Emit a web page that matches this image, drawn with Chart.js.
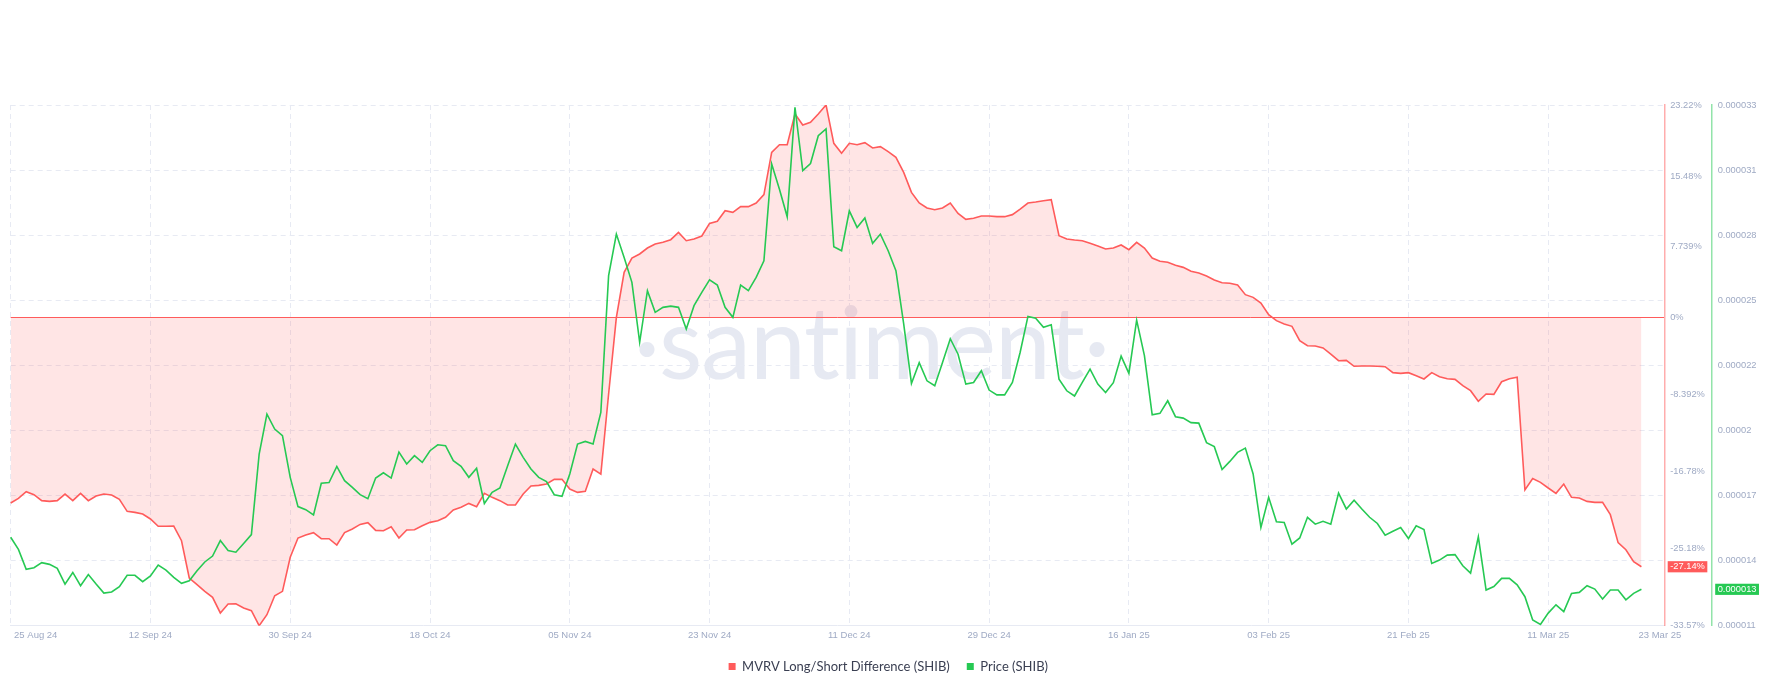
<!DOCTYPE html>
<html>
<head>
<meta charset="utf-8">
<title>SHIB MVRV Long/Short Difference vs Price</title>
<script src="https://cdn.jsdelivr.net/npm/chart.js@4.4.1/dist/chart.umd.min.js"></script>
<style>
  html, body { margin: 0; padding: 0; background: #fff; }
  #wrap { position: relative; width: 1766px; height: 683px; overflow: hidden; }
  #mark {
    position: absolute; left: 634px; top: 290px;
    font: 400 100px Lato, sans-serif; line-height: 100px;
    color: #e6e9f2; letter-spacing: -1px; white-space: nowrap;
  }
  #chart { position: absolute; left: 0; top: 0; width: 1766px; height: 683px; }
</style>
</head>
<body>
<div id="wrap">
  <div id="mark">·santiment·</div>
  <canvas id="chart" width="1766" height="683"></canvas>
</div>
<script>
// daily categories, 25 Aug 24 .. 26 Mar 25 (the last three days are the empty right margin)
var months = ['Jan', 'Feb', 'Mar', 'Apr', 'May', 'Jun', 'Jul', 'Aug', 'Sep', 'Oct', 'Nov', 'Dec'];
var dates = [];
for (var d = 0; d < 214; d++) {
    var t = new Date(Date.UTC(2024, 7, 25 + d));
    dates.push(String(t.getUTCDate()).padStart(2, '0') + ' ' + months[t.getUTCMonth()] + ' ' + String(t.getUTCFullYear()).slice(2));
}

var xTickLabels = ['25 Aug 24', '12 Sep 24', '30 Sep 24', '18 Oct 24', '05 Nov 24', '23 Nov 24', '11 Dec 24',
    '29 Dec 24', '16 Jan 25', '03 Feb 25', '21 Feb 25', '11 Mar 25', '23 Mar 25'];

// MVRV Long/Short Difference (SHIB), %
var mvrv = [
    -20.19, -19.68, -18.95, -19.28, -19.93, -20.01, -19.93, -19.21, -19.93, -19.13,
    -19.93, -19.43, -19.21, -19.32, -19.79, -21.10, -21.21, -21.39, -21.93, -22.73,
    -22.73, -22.70, -24.30, -28.37, -29.10, -29.82, -30.48, -32.18, -31.20, -31.17,
    -31.64, -31.93, -33.57, -32.37, -30.30, -29.82, -26.11, -24.01, -23.68, -23.42,
    -24.08, -24.08, -24.77, -23.42, -23.02, -22.52, -22.33, -23.17, -23.21, -22.77,
    -24.01, -23.13, -23.10, -22.66, -22.30, -22.12, -21.75, -20.95, -20.66, -20.23,
    -20.59, -19.13, -19.57, -19.93, -20.41, -20.41, -19.21, -18.33, -18.26, -18.12,
    -17.61, -17.61, -18.66, -19.03, -18.92, -16.48, -17.03, -8.30, 0.06, 4.97,
    6.53, 6.97, 7.62, 8.06, 8.24, 8.53, 9.33, 8.42, 8.60, 8.93,
    10.31, 10.53, 11.69, 11.51, 12.13, 12.13, 12.53, 13.44, 18.05, 18.89,
    18.89, 22.24, 21.04, 21.33, 22.24, 23.22, 19.04, 17.95, 19.04, 18.89,
    19.11, 18.53, 18.67, 18.13, 17.51, 15.87, 13.69, 12.53, 11.98, 11.80,
    11.98, 12.53, 11.40, 10.75, 10.86, 11.11, 11.11, 11.04, 11.04, 11.26,
    11.87, 12.53, 12.64, 12.78, 12.89, 8.97, 8.60, 8.49, 8.42, 8.13,
    7.84, 7.51, 7.62, 7.95, 7.44, 8.24, 7.62, 6.53, 6.17, 6.06,
    5.73, 5.51, 5.08, 4.90, 4.57, 4.13, 3.84, 3.77, 3.59, 2.53,
    2.24, 1.62, 0.35, -0.30, -0.67, -0.92, -2.48, -3.03, -3.07, -3.28,
    -3.94, -4.67, -4.63, -5.28, -5.25, -5.25, -5.28, -5.32, -5.97, -6.05,
    -5.97, -6.30, -6.66, -5.97, -6.41, -6.63, -6.70, -7.39, -7.94, -9.10,
    -8.30, -8.34, -6.96, -6.63, -6.48, -18.77, -17.53, -17.94, -18.55, -19.13,
    -18.12, -19.57, -19.64, -20.01, -20.12, -20.12, -21.46, -24.51, -25.28, -26.59,
    -27.14
];

// Price (SHIB), USD
var price = [
    15.12e-6, 14.61e-6, 13.77e-6, 13.84e-6, 14.05e-6, 13.98e-6, 13.81e-6, 13.15e-6, 13.64e-6, 13.08e-6,
    13.55e-6, 13.15e-6, 12.77e-6, 12.82e-6, 13.04e-6, 13.52e-6, 13.52e-6, 13.25e-6, 13.49e-6, 13.95e-6,
    13.74e-6, 13.43e-6, 13.18e-6, 13.29e-6, 13.71e-6, 14.08e-6, 14.33e-6, 14.98e-6, 14.56e-6, 14.49e-6,
    14.86e-6, 15.23e-6, 18.62e-6, 20.30e-6, 19.67e-6, 19.39e-6, 17.64e-6, 16.41e-6, 16.28e-6, 16.06e-6,
    17.39e-6, 17.42e-6, 18.10e-6, 17.50e-6, 17.22e-6, 16.91e-6, 16.74e-6, 17.61e-6, 17.83e-6, 17.61e-6,
    18.70e-6, 18.20e-6, 18.55e-6, 18.27e-6, 18.76e-6, 19.01e-6, 18.97e-6, 18.34e-6, 18.10e-6, 17.64e-6,
    18.02e-6, 16.54e-6, 17.01e-6, 17.19e-6, 18.13e-6, 19.04e-6, 18.48e-6, 17.99e-6, 17.64e-6, 17.46e-6,
    16.91e-6, 16.84e-6, 17.78e-6, 19.04e-6, 19.15e-6, 19.04e-6, 20.37e-6, 26.12e-6, 27.87e-6, 26.89e-6,
    25.84e-6, 23.32e-6, 25.49e-6, 24.58e-6, 24.79e-6, 24.84e-6, 24.79e-6, 23.88e-6, 24.86e-6, 25.42e-6,
    25.95e-6, 25.73e-6, 24.79e-6, 24.37e-6, 25.73e-6, 25.49e-6, 26.05e-6, 26.75e-6, 30.82e-6, 29.76e-6,
    28.60e-6, 33.20e-6, 30.54e-6, 30.84e-6, 32.01e-6, 32.29e-6, 27.34e-6, 27.17e-6, 28.85e-6, 28.15e-6,
    28.55e-6, 27.48e-6, 27.87e-6, 27.17e-6, 26.33e-6, 24.09e-6, 21.59e-6, 22.46e-6, 21.70e-6, 21.49e-6,
    22.47e-6, 23.47e-6, 22.82e-6, 21.56e-6, 21.63e-6, 22.12e-6, 21.31e-6, 21.11e-6, 21.11e-6, 21.63e-6,
    22.90e-6, 24.41e-6, 24.33e-6, 23.95e-6, 24.06e-6, 21.77e-6, 21.28e-6, 21.06e-6, 21.63e-6, 22.19e-6,
    21.56e-6, 21.21e-6, 21.62e-6, 22.74e-6, 22.01e-6, 24.25e-6, 22.76e-6, 20.27e-6, 20.33e-6, 20.86e-6,
    20.19e-6, 20.13e-6, 19.94e-6, 19.92e-6, 19.10e-6, 18.93e-6, 17.97e-6, 18.31e-6, 18.69e-6, 18.87e-6,
    17.78e-6, 15.53e-6, 16.80e-6, 15.77e-6, 15.74e-6, 14.83e-6, 15.09e-6, 15.96e-6, 15.67e-6, 15.79e-6,
    15.67e-6, 16.98e-6, 16.31e-6, 16.68e-6, 16.31e-6, 15.96e-6, 15.70e-6, 15.21e-6, 15.37e-6, 15.53e-6,
    15.07e-6, 15.60e-6, 15.44e-6, 14.02e-6, 14.16e-6, 14.37e-6, 14.39e-6, 13.92e-6, 13.61e-6, 15.14e-6,
    12.90e-6, 13.05e-6, 13.39e-6, 13.39e-6, 13.12e-6, 12.62e-6, 11.64e-6, 11.45e-6, 11.93e-6, 12.28e-6,
    11.99e-6, 12.76e-6, 12.80e-6, 13.08e-6, 12.94e-6, 12.52e-6, 12.90e-6, 12.90e-6, 12.49e-6, 12.76e-6,
    12.93e-6
];

// axis ticks as the original shows them
var mvrvTicks = [-33.568, -25.176, -16.784, -8.392, 0, 7.739, 15.478, 23.217];
var priceTicks = [11.4e-6, 14.1375e-6, 16.875e-6, 19.6125e-6, 22.35e-6, 25.0875e-6, 27.825e-6, 30.5625e-6, 33.3e-6];

var RED = '#ff5b5b';
var GREEN = '#26c953';
var GRID = '#e7eaf3';
var LABEL = '#9faac4';
var TICK_FONT = { family: "'Liberation Sans', Arial, sans-serif", size: 9.3 };

var lastMvrv = mvrv[mvrv.length - 1];
var lastPrice = price[price.length - 1];

// centred labels: leading spaces push the first/last one so it starts near its tick
var measureCtx = document.createElement('canvas').getContext('2d');
measureCtx.font = "9.5px 'Liberation Sans', Arial, sans-serif";
function shiftLabel(text, shift) {
    var tw = measureCtx.measureText(text).width;
    var sw = measureCtx.measureText(' ').width;
    var n = Math.max(0, Math.round((tw + 2 * shift) / sw));
    return ' '.repeat(n) + text;
}

var ctx = document.getElementById('chart').getContext('2d');
var chart = new Chart(ctx, {
    type: 'line',
    data: {
        labels: dates,
        datasets: [{
            label: 'MVRV Long/Short Difference (SHIB)',
            data: mvrv,
            yAxisID: 'y',
            borderColor: RED,
            backgroundColor: 'rgba(255, 91, 91, 0.16)',
            borderWidth: 1.6,
            fill: 'origin',
            order: 1
        }, {
            label: 'Price (SHIB)',
            data: price,
            yAxisID: 'y1',
            borderColor: GREEN,
            backgroundColor: GREEN,
            borderWidth: 1.6,
            fill: false,
            order: 0
        }]
    },
    options: {
        responsive: false,
        devicePixelRatio: 1,
        animation: false,
        events: [],
        elements: { point: { radius: 0 }, line: { tension: 0 } },
        layout: { padding: { top: 105, left: 10.67, right: 0, bottom: 0 } },
        plugins: {
            tooltip: { enabled: false },
            legend: {
                position: 'bottom',
                labels: {
                    boxWidth: 7,
                    boxHeight: 7,
                    padding: 17,
                    color: '#3a3f52',
                    font: { family: 'Lato, sans-serif', size: 13 },
                    sort: function (a, b) { return a.datasetIndex - b.datasetIndex; },
                    generateLabels: function (chart) {
                        return Chart.defaults.plugins.legend.labels.generateLabels(chart).map(function (item) {
                            item.fillStyle = item.strokeStyle;
                            item.lineWidth = 0;
                            return item;
                        });
                    }
                }
            }
        },
        scales: {
            x: {
                type: 'category',
                offset: false,
                grid: {
                    drawTicks: false,
                    color: function (c) { return c.index < xTickLabels.length - 1 ? GRID : 'transparent'; }
                },
                border: { display: true, color: GRID, width: 1, dash: [5, 4] },
                ticks: {
                    autoSkip: false,
                    maxRotation: 0,
                    padding: 3.6,
                    color: LABEL,
                    font: { family: "'Liberation Sans', Arial, sans-serif", size: 9.5 },
                    callback: function (value, index, ticks) {
                        var label = this.getLabelForValue(value);
                        if (index === 0) return shiftLabel(label, 3.4);
                        if (index === ticks.length - 1) return shiftLabel(label, -3.5);
                        return label;
                    }
                },
                afterBuildTicks: function (scale) {
                    scale.ticks = xTickLabels.map(function (l) { return { value: dates.indexOf(l) }; });
                },
                afterFit: function (scale) {
                    scale.paddingLeft = 0;
                    scale.paddingRight = 0;
                    scale.height = 17.3;
                }
            },
            y: {
                position: 'right',
                weight: 0,
                min: mvrvTicks[0],
                max: mvrvTicks[mvrvTicks.length - 1],
                bounds: 'data',
                grid: {
                    drawTicks: false,
                    lineWidth: 1,
                    color: function (c) { return c.tick && c.tick.value === 0 ? RED : 'transparent'; }
                },
                border: { display: true, color: 'rgba(255, 91, 91, 0.5)', width: 1.5, dash: [] },
                ticks: {
                    autoSkip: false,
                    padding: 5.5,
                    font: TICK_FONT,
                    color: function (c) { return c.index === mvrvTicks.length ? '#fff' : LABEL; },
                    showLabelBackdrop: function (c) { return c.index === mvrvTicks.length; },
                    backdropColor: RED,
                    backdropPadding: { top: 0, bottom: 0, left: 2.5, right: 2.5 },
                    callback: function (value) {
                        return Number(value.toPrecision(4)) + '%';
                    }
                },
                afterBuildTicks: function (scale) {
                    scale.ticks = mvrvTicks.concat([lastMvrv]).map(function (v) { return { value: v }; });
                },
                afterFit: function (scale) { scale.width = 47; }
            },
            y1: {
                position: 'right',
                weight: 1,
                min: priceTicks[0],
                max: priceTicks[priceTicks.length - 1],
                bounds: 'data',
                grid: {
                    drawTicks: false,
                    lineWidth: 1,
                    color: function (c) { return c.index < priceTicks.length ? GRID : 'transparent'; }
                },
                border: { display: true, color: 'rgba(38, 201, 83, 0.5)', width: 1.5, dash: [5, 4] },
                ticks: {
                    autoSkip: false,
                    padding: 6,
                    font: TICK_FONT,
                    color: function (c) { return c.index === priceTicks.length ? '#fff' : LABEL; },
                    showLabelBackdrop: function (c) { return c.index === priceTicks.length; },
                    backdropColor: GREEN,
                    backdropPadding: { top: 0, bottom: 0, left: 2.5, right: 2.5 },
                    callback: function (value) {
                        return String(Number(value.toPrecision(2)));
                    }
                },
                afterBuildTicks: function (scale) {
                    scale.ticks = priceTicks.concat([lastPrice]).map(function (v) { return { value: v }; });
                },
                afterFit: function (scale) { scale.width = 54.3; }
            }
        }
    }
});
</script>
</body>
</html>
